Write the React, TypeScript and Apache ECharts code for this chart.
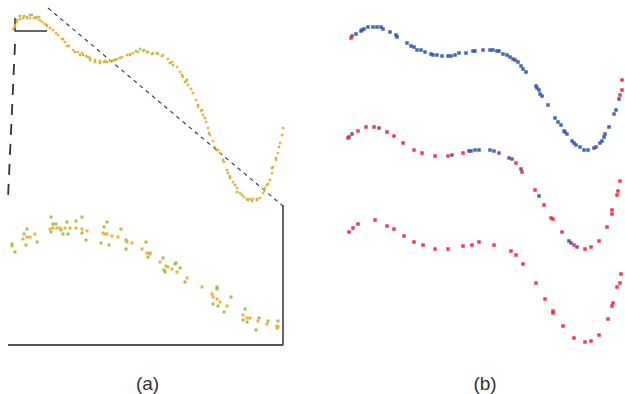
import React, { useEffect, useRef } from "react";
import * as echarts from "echarts";

// Panel (a) overview curve (x, y in figure units, y downwards)
const orangeTop: number[][] = [
  [13, 29], [15, 25], [17, 22], [20, 19], [23, 18], [27, 18], [30, 18], [34, 18], [37, 18], [40, 20], [42, 22], [45, 24], [47, 25],
  [50, 28], [53, 30], [56, 33], [58, 35], [62, 39], [65, 42], [69, 46], [73, 50], [78, 52], [82, 53], [86, 56], [90, 58], [95, 60],
  [100, 61], [105, 61], [110, 61], [114, 60], [117, 59], [122, 57], [127, 55], [130, 54], [133, 53], [138, 52], [143, 51], [148, 52],
  [153, 53], [158, 54], [163, 55], [168, 59], [172, 62], [177, 67], [180, 72], [183, 77], [186, 81], [188, 85], [191, 89], [193, 93],
  [196, 100], [198, 107], [201, 111], [203, 115], [206, 122], [208, 128], [210, 135], [213, 141], [215, 147], [218, 150], [220, 153],
  [224, 162], [227, 170], [230, 176], [233, 182], [237, 188], [240, 193], [244, 197], [247, 199], [250, 199], [253, 199], [257, 199],
  [260, 198], [263, 193], [265, 188], [268, 184], [270, 180], [272, 173], [273, 167], [276, 160], [278, 153], [280, 143], [282, 135], [283, 128],
];
const greenTop: number[][] = [
  [15, 27], [17, 20], [20, 16], [24, 16], [27, 17], [30, 15], [32, 15], [36, 17], [39, 17], [47, 26], [63, 39], [67, 46], [75, 52],
  [80, 55], [83, 55], [88, 57], [90, 60], [95, 62], [100, 63], [104, 62], [107, 62], [112, 61], [115, 60], [120, 58], [130, 55],
  [136, 51], [140, 49], [144, 50], [147, 52], [152, 54], [157, 53], [162, 56], [170, 63], [173, 65], [182, 75], [185, 82], [187, 80],
  [198, 105], [202, 110], [205, 118], [209, 133], [217, 150], [223, 160], [228, 173], [230, 178], [235, 185], [237, 192], [242, 195],
  [248, 200], [252, 201], [257, 200], [264, 190], [267, 185], [272, 168], [276, 158], [279, 147],
];

// Panel (a) zoomed region
const orangeZoom: number[][] = [
  [12, 246], [23, 239], [27, 237], [30, 237], [35, 234], [50, 229], [53, 228], [57, 228], [60, 228], [65, 228], [70, 228], [76, 228],
  [82, 229], [87, 231], [103, 233], [105, 234], [107, 234], [112, 236], [118, 237], [127, 242], [132, 243], [142, 249], [147, 253],
  [150, 254], [160, 262], [166, 266], [168, 267], [172, 269], [177, 272], [187, 278], [202, 287], [212, 294], [213, 297], [217, 299],
  [220, 302], [227, 306], [243, 315], [247, 318], [250, 318], [258, 321], [267, 324], [277, 326], [278, 327],
];
const greenZoom: number[][] = [
  [12, 244], [15, 252], [24, 234], [27, 229], [26, 245], [37, 242], [51, 217], [51, 232], [53, 224], [56, 224], [61, 230], [63, 234],
  [68, 234], [67, 222], [76, 221], [82, 217], [82, 233], [86, 240], [101, 243], [104, 227], [107, 222], [109, 245], [121, 229],
  [126, 240], [126, 249], [146, 242], [148, 257], [150, 253], [163, 258], [164, 270], [165, 272], [175, 264], [176, 263], [180, 268],
  [185, 282], [217, 287], [217, 289], [213, 304], [218, 306], [224, 312], [231, 297], [245, 309], [243, 320], [247, 322], [259, 318],
  [256, 330], [268, 321], [278, 321], [277, 328],
];

// Panel (b) three curves
const blueB: number[][] = [
  [356, 34], [361, 31], [362, 30], [364, 29], [368, 27], [373, 27], [377, 27], [381, 27], [383, 29], [390, 32], [396, 35], [397, 37],
  [407, 43], [411, 46], [414, 47], [417, 50], [421, 50], [425, 52], [431, 54], [433, 55], [437, 55], [442, 56], [448, 56], [451, 56],
  [455, 55], [459, 53], [466, 53], [473, 51], [475, 51], [483, 50], [490, 50], [493, 50], [497, 51], [499, 51], [503, 54], [507, 55],
  [510, 57], [515, 60], [518, 62], [521, 66], [523, 69], [526, 72], [536, 86], [537, 88], [539, 90], [540, 94], [542, 96], [548, 105],
  [555, 118], [558, 122], [561, 125], [564, 131], [567, 134], [572, 141], [574, 143], [576, 145], [580, 147], [584, 150], [588, 150],
  [594, 148], [600, 143], [602, 141], [604, 137], [605, 134], [609, 127], [616, 110], [619, 99],
  [469, 151], [471, 151], [475, 150], [479, 150], [490, 150], [539, 196], [569, 241],
];
const purpleB: number[][] = [
  [352, 36], [513, 59], [565, 132], [596, 147], [614, 114], [349, 137], [352, 134], [379, 128], [452, 155], [494, 151], [499, 153],
  [509, 158], [512, 159], [521, 169], [571, 243], [577, 247],
];
const redB: number[][] = [
  [351, 38], [620, 95], [622, 90], [622, 80],
  [348, 138], [358, 131], [366, 127], [374, 127], [387, 132], [394, 136], [403, 143], [414, 150], [422, 153], [435, 156], [448, 156],
  [463, 153], [516, 163], [522, 172], [535, 190], [544, 205], [551, 218], [553, 219], [562, 232], [574, 245], [585, 249], [591, 247],
  [599, 241], [607, 227], [612, 214], [612, 210], [617, 195], [618, 191], [620, 181],
  [349, 232], [353, 228], [358, 224], [375, 220], [387, 226], [394, 229], [404, 236], [414, 242], [423, 245], [435, 249], [448, 249],
  [463, 246], [472, 245], [479, 242], [494, 245], [511, 251], [516, 255], [523, 264], [536, 283], [545, 299], [553, 311], [553, 313],
  [563, 326], [574, 338], [585, 342], [591, 341], [599, 335], [608, 319], [612, 306], [613, 303], [617, 287], [620, 283], [621, 274],
];

// Frame / guide lines of panel (a)
const cornerLine: number[][] = [[15, 18], [15, 31], [47, 31]];
const diagonalLine: number[][] = [[48, 8], [283, 206]];
const leftDashed: number[][] = [[15, 44], [8, 198]];
const boxLine: number[][] = [[283, 205], [283, 345], [8, 345]];

const panelLabels = ["(a)", "(b)"];

function lineSeries(data: number[][], color: string, width: number, type: any) {
  return {
    type: "line",
    data,
    symbol: "none",
    silent: true,
    lineStyle: { color, width, type },
    z: 1,
  };
}

function dots(data: number[][], color: string, size: number) {
  return {
    type: "scatter",
    data,
    symbol: "rect",
    symbolSize: size,
    itemStyle: { color, opacity: 0.9 },
    silent: true,
    z: 3,
  };
}

export default function App() {
  const ref = useRef<HTMLDivElement>(null);
  useEffect(() => {
    if (!ref.current) return;
    const chart = echarts.init(ref.current, undefined, { renderer: "svg" });
    chart.setOption({
      animation: false,
      backgroundColor: "#ffffff",
      grid: { left: 0, top: 0, right: 0, bottom: 0 },
      xAxis: { type: "value", min: 0, max: 625, show: false },
      yAxis: { type: "value", min: 0, max: 394, inverse: true, show: false },
      graphic: [
        {
          type: "text",
          x: 147.5,
          y: 383,
          style: {
            text: panelLabels[0],
            font: "19px 'Liberation Sans', Arial, sans-serif",
            fill: "#333",
            textAlign: "center",
            textVerticalAlign: "middle",
          },
        },
        {
          type: "text",
          x: 485,
          y: 383,
          style: {
            text: panelLabels[1],
            font: "19px 'Liberation Sans', Arial, sans-serif",
            fill: "#333",
            textAlign: "center",
            textVerticalAlign: "middle",
          },
        },
      ],
      series: [
        lineSeries(cornerLine, "#333", 1.6, "solid"),
        lineSeries(diagonalLine, "#333", 1.1, [4, 4]),
        lineSeries(leftDashed, "#333", 1.8, [11, 9]),
        lineSeries(boxLine, "#555", 1.8, "solid"),
        dots(greenTop, "#8cc63f", 2.5),
        dots(orangeTop, "#f9a52c", 2.5),
        dots(greenZoom, "#86c440", 3),
        dots(orangeZoom, "#f9a52c", 3),
        dots(blueB, "#2d5aa8", 3.5),
        dots(purpleB, "#6a45a0", 3.5),
        dots(redB, "#f0283a", 3.5),
      ],
    });
    return () => chart.dispose();
  }, []);
  return <div ref={ref} style={{ position: "fixed", left: 0, top: 0, width: 625, height: 394 }} />;
}
